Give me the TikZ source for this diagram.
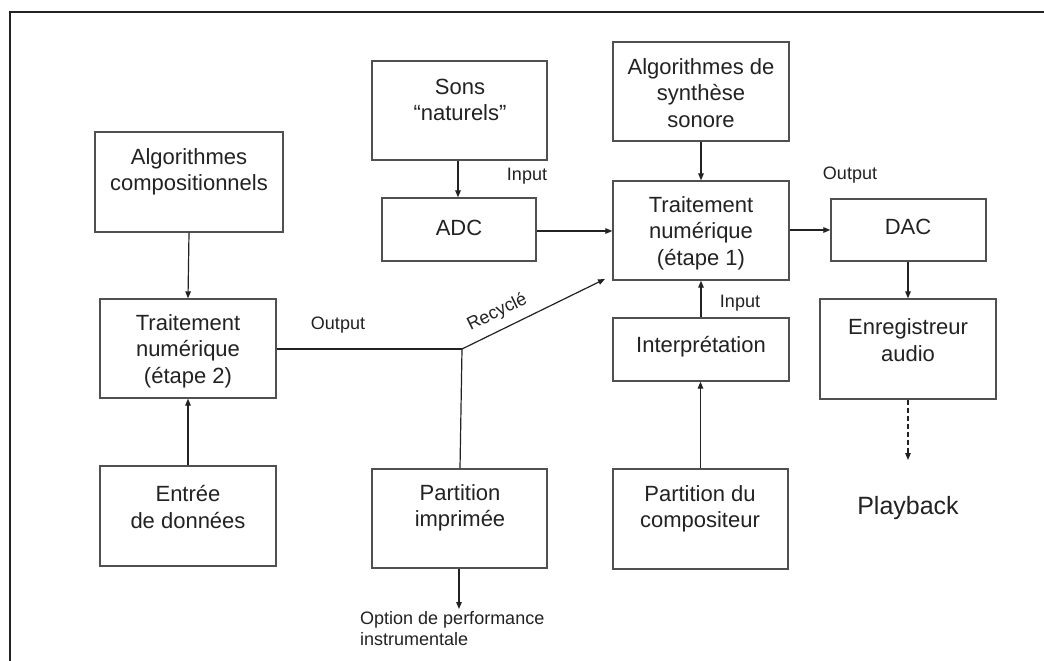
\documentclass[tikz,border=0pt]{standalone}
\usepackage{fontspec}
\setmainfont{Liberation Sans}
\usetikzlibrary{arrows.meta}
\definecolor{boxline}{HTML}{505050}
\definecolor{conline}{HTML}{222222}
\definecolor{txtcol}{HTML}{222222}
\tikzset{
  boxnode/.style={draw=boxline, line width=1.3pt, rectangle, inner sep=0pt},
  boxtxt/.style={text=txtcol, align=center, font=\fontsize{22}{26.5}\selectfont, inner sep=0pt},
  smalltxt/.style={text=txtcol, font=\fontsize{18}{21.7}\selectfont, inner sep=0pt},
  conn/.style={draw=conline, line width=1.2pt},
  arr/.style={conn, -{Triangle[length=7pt,width=5.5pt]}},
}
\begin{document}
\begin{tikzpicture}[x=1pt,y=-1pt]
\useasboundingbox (0,0) rectangle (1044,661);
\fill[white] (0,0) rectangle (1044,661);
% frame
\draw[conline, line width=1.1pt] (10,661) -- (10,12) -- (1044,12);

% boxes
\node[boxnode, minimum width=188pt, minimum height=100pt] (algc) at (189,182) {};
\node[boxnode, minimum width=176pt, minimum height=99pt] (t2) at (188,348.5) {};
\node[boxnode, minimum width=176pt, minimum height=100pt] (entree) at (188,516) {};
\node[boxnode, minimum width=175pt, minimum height=99pt] (sons) at (459.5,110.5) {};
\node[boxnode, minimum width=154pt, minimum height=63pt] (adc) at (459,229.5) {};
\node[boxnode, minimum width=175pt, minimum height=99pt] (partimp) at (459.5,518.5) {};
\node[boxnode, minimum width=176pt, minimum height=99pt] (synth) at (701,91.5) {};
\node[boxnode, minimum width=176pt, minimum height=99pt] (t1) at (701,230.5) {};
\node[boxnode, minimum width=176pt, minimum height=63pt] (interp) at (701,349.5) {};
\node[boxnode, minimum width=175pt, minimum height=100pt] (partcomp) at (700.5,519) {};
\node[boxnode, minimum width=155pt, minimum height=62pt] (dac) at (908.5,230) {};
\node[boxnode, minimum width=176pt, minimum height=100pt] (enreg) at (908,349) {};

% box texts
\node[boxtxt] (algcT) at (189,172) {Algorithmes\\compositionnels};
\node[boxtxt] (t2T) at (188,351) {Traitement\\numérique\\(étape 2)};
\node[boxtxt] (entreeT) at (188,507) {Entrée\\de données};
\node[boxtxt] (sonsT) at (460,100) {Sons\\“naturels”};
\node[boxtxt] (adcT) at (459,228) {ADC};
\node[boxtxt] (partimpT) at (460,508) {Partition\\imprimée};
\node[boxtxt] (synthT) at (701,93) {Algorithmes de\\synthèse\\sonore};
\node[boxtxt] (t1T) at (701,233) {Traitement\\numérique\\(étape 1)};
\node[boxtxt] (interpT) at (701,347) {Interprétation};
\node[boxtxt] (partcompT) at (700,509) {Partition du\\compositeur};
\node[boxtxt] (dacT) at (908,227) {DAC};
\node[boxtxt] (enregT) at (908,340) {Enregistreur\\audio};
\node[text=txtcol, font=\fontsize{25}{30}\selectfont, inner sep=0pt] (play) at (908,508) {Playback};

% labels
\node[smalltxt] (inA) at (527,176) {Input};
\node[smalltxt] (outB) at (850,175) {Output};
\node[smalltxt] (inC) at (740,303) {Input};
\node[smalltxt] (outD) at (338,325) {Output};
\node[smalltxt, align=left, anchor=north west] (opt) at (360,611) {Option de performance\\instrumentale};

% coordinates
\coordinate (j) at (462,349);
\coordinate (rt) at (605,279);
\coordinate (pbt) at (908,460);
\coordinate (optt) at (459,609);

% connectors
\draw[arr] (algc.south) -- (t2.north);
\draw[arr] (entree.north) -- (t2.south);
\draw[conn] (t2.east |- j) -- (j);
\draw[conn] (partimp.north -| 460,0) -- (j);
\draw[arr] (j) -- node[smalltxt, sloped, above=8pt, pos=0.3] (rec) {Recyclé} (rt);
\draw[arr] (partimp.south -| optt) -- (optt);
\draw[arr] (sons.south -| 458,0) -- (adc.north -| 458,0);
\draw[arr] (adc.east |- 0,231) -- (t1.west |- 0,231);
\draw[arr] (synth.south) -- (t1.north);
\draw[arr] (interp.north) -- (t1.south);
\draw[arr] (partcomp.north) -- (interp.south -| partcomp.north);
\draw[arr] (t1.east |- 0,230) -- (dac.west |- 0,230);
\draw[arr] (dac.south -| 908,0) -- (enreg.north -| 908,0);
\draw[arr, dashed, dash pattern=on 5pt off 3pt] (enreg.south -| pbt) -- (pbt);
\end{tikzpicture}
\end{document}
